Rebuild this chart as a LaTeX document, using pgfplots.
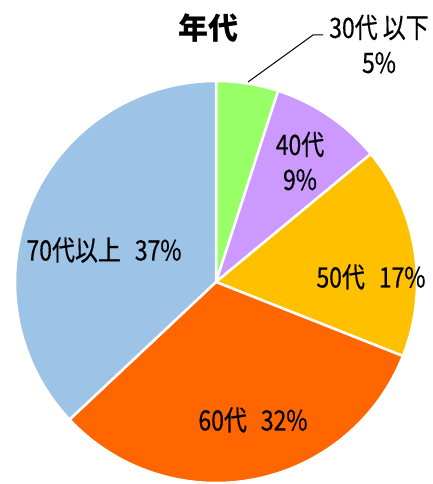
\documentclass[border=0pt]{standalone}
\usepackage{pgfplots}
\usepackage{pgfplotstable}
\pgfplotsset{compat=1.18}
\usepackage{fontspec}
\setmainfont{Noto Sans CJK JP}
\newfontfamily\jpn{Noto Sans CJK JP}[FakeStretch=0.82, FakeBold=0.4]
\definecolor{cA}{HTML}{99FF66}
\definecolor{cB}{HTML}{CC99FF}
\definecolor{cC}{HTML}{FFC000}
\definecolor{cD}{HTML}{FF6600}
\definecolor{cE}{HTML}{9DC3E6}
\pgfplotstableread{
label pct
30s 5
40s 9
50s 17
60s 32
70s 37
}\piedata
\tikzset{lbl/.style={font=\jpn\fontsize{28}{35}\selectfont, align=center, text=black, inner sep=0pt}}
\begin{document}%
\begin{tikzpicture}
\pgfplotstablegetelem{0}{pct}\of\piedata \let\pA\pgfplotsretval
\pgfplotstablegetelem{1}{pct}\of\piedata \let\pB\pgfplotsretval
\pgfplotstablegetelem{2}{pct}\of\piedata \let\pC\pgfplotsretval
\pgfplotstablegetelem{3}{pct}\of\piedata \let\pD\pgfplotsretval
\pgfplotstablegetelem{4}{pct}\of\piedata \let\pE\pgfplotsretval
\pgfmathsetmacro\aO{90}
\pgfmathsetmacro\aA{\aO-3.6*\pA}
\pgfmathsetmacro\aB{\aA-3.6*\pB}
\pgfmathsetmacro\aC{\aB-3.6*\pC}
\pgfmathsetmacro\aD{\aC-3.6*\pD}
\pgfmathsetmacro\aE{\aD-3.6*\pE}
\def\cx{216}\def\cy{202}\def\rr{201}
\begin{axis}[
  at={(0,0)}, anchor=south west,
  scale only axis, width=433pt, height=484pt,
  xmin=0, xmax=433, ymin=0, ymax=484,
  hide axis, clip=true,
]
\addplot[fill=cA, draw=white, line width=2.5pt, domain=\aA:\aO, samples=20, variable=\t] ({\cx+\rr*cos(\t)},{\cy+\rr*sin(\t)}) -- (axis cs:\cx,\cy) -- cycle;
\addplot[fill=cB, draw=white, line width=2.5pt, domain=\aB:\aA, samples=30, variable=\t] ({\cx+\rr*cos(\t)},{\cy+\rr*sin(\t)}) -- (axis cs:\cx,\cy) -- cycle;
\addplot[fill=cC, draw=white, line width=2.5pt, domain=\aC:\aB, samples=50, variable=\t] ({\cx+\rr*cos(\t)},{\cy+\rr*sin(\t)}) -- (axis cs:\cx,\cy) -- cycle;
\addplot[fill=cD, draw=white, line width=2.5pt, domain=\aD:\aC, samples=80, variable=\t] ({\cx+\rr*cos(\t)},{\cy+\rr*sin(\t)}) -- (axis cs:\cx,\cy) -- cycle;
\addplot[fill=cE, draw=white, line width=2.5pt, domain=\aE:\aD, samples=90, variable=\t] ({\cx+\rr*cos(\t)},{\cy+\rr*sin(\t)}) -- (axis cs:\cx,\cy) -- cycle;
\addplot[black, line width=1pt] coordinates {(248,402) (313,449) (323,449)};
\node[font=\fontsize{30}{32}\selectfont\bfseries, inner sep=0pt] at (axis cs:208,456) {年代};
\node[lbl] at (axis cs:379,440) {30代 以下\\5\%};
\node[lbl] at (axis cs:300,323) {40代\\9\%};
\node[lbl] at (axis cs:371,207) {50代\hspace{0.5em}17\%};
\node[lbl] at (axis cs:253,64) {60代\hspace{0.5em}32\%};
\node[lbl] at (axis cs:104,234) {70代以上\hspace{0.5em}37\%};
\end{axis}
\pgfresetboundingbox
\path (0,0) rectangle (433pt,484pt);
\end{tikzpicture}%
\end{document}
